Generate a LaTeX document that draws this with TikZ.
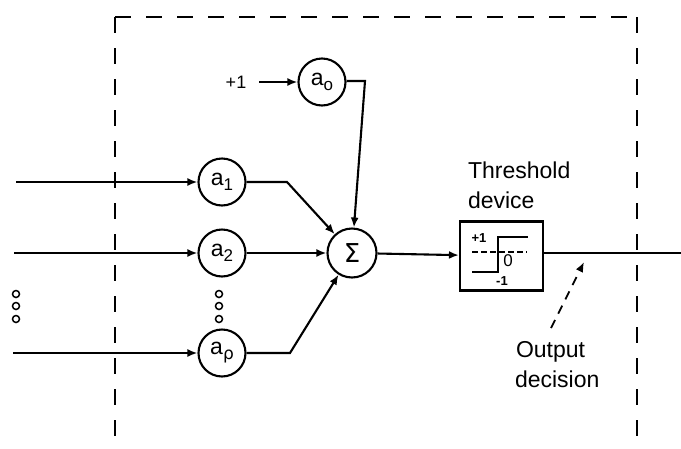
\documentclass[tikz,border=0pt]{standalone}
\usepackage{fontspec}
\setmainfont{Liberation Sans}
\newfontfamily\dejav{DejaVu Sans}
\usetikzlibrary{arrows.meta}
\newcommand{\wsub}[1]{\raisebox{-5pt}{\fontsize{17}{19}\selectfont #1}}
\begin{document}
\begin{tikzpicture}[x=1pt,y=-1pt,
  line width=2.1pt,
  wt/.style={circle,draw,minimum size=47pt,inner sep=0pt,font=\fontsize{23}{25}\selectfont},
  arr/.style={-{Latex[length=10pt,width=8pt]}},
  frame/.style={line width=2.6pt,dash pattern=on 16pt off 15pt},
  lbl/.style={font=\fontsize{23}{25}\selectfont,inner sep=0pt},
  dot/.style={circle,draw,line width=1.5pt,minimum size=7pt,inner sep=0pt}]
\useasboundingbox (0,0) rectangle (681,448);
% frame
\coordinate (fbl) at (115,448);
\coordinate (ftl) at (115,17);
\coordinate (ftr) at (637,17);
\coordinate (fbr) at (637,448);
\draw[frame] (ftl) -- (ftr);
\draw[frame] (ftl) -- (fbl);
\draw[frame] (ftr) -- (fbr);
% nodes
\node[wt] (a0) at (322,82) {a\wsub{o}};
\node[wt] (a1) at (222,182) {a\wsub{1}};
\node[wt] (a2) at (222,253) {a\wsub{2}};
\node[wt] (ap) at (222,353) {a\wsub{\dejav ρ}};
\node[wt,minimum size=49pt,font=\fontsize{26}{28}\selectfont] (sum) at (352,253) {\dejav Σ};
\node[draw,minimum width=83pt,minimum height=69pt,inner sep=0pt] (th) at (501.5,256) {};
\node[font=\fontsize{18}{20}\selectfont,inner sep=0pt] (plus) at (236,82) {+1};
\node[lbl,anchor=base west] (thl) at (467,178) {Threshold};
\node[lbl,anchor=base west] (dev) at (467,208) {device};
\node[lbl,anchor=base west] (out) at (515,357) {Output};
\node[lbl,anchor=base west] (dec) at (514,387) {decision};
% inputs
\coordinate (i1) at (16,182);
\coordinate (i2) at (14,253);
\coordinate (ip) at (13,353);
\draw[arr] (i1) -- (a1);
\draw[arr] (i2) -- (a2);
\draw[arr] (ip) -- (ap);
\coordinate (pe) at (259,82);
\draw[arr] (pe) -- (a0);
% to sum
\coordinate (k0) at (365,81);
\coordinate (k1) at (287,182);
\coordinate (kp) at (290,353);
\draw[arr] (a0.east |- k0) -- (k0) -- (sum);
\draw[arr] (a1) -- (k1) -- (sum);
\draw[arr] (a2) -- (sum);
\draw[arr] (ap) -- (kp) -- (sum);
\draw[arr] (sum) -- (th);
\coordinate (oend) at (681,253);
\draw (th.east |- oend) -- (oend);
% threshold inside
\coordinate (s1) at (472,272);
\coordinate (s2) at (498,272);
\coordinate (s3) at (498,237);
\coordinate (s4) at (528,237);
\draw[line width=1.8pt] (s1) -- (s2) -- (s3) -- (s4);
\coordinate (d1) at (472,252);
\coordinate (d2) at (527,252);
\draw[line width=1.6pt,dash pattern=on 6pt off 3pt] (d1) -- (d2);
\node[font=\fontsize{13}{14}\selectfont\bfseries,inner sep=0pt] (p1) at (479,238) {+1};
\node[font=\fontsize{17}{18}\selectfont,inner sep=0pt] (z) at (508,261) {0};
\node[font=\fontsize{13}{14}\selectfont\bfseries,inner sep=0pt] (m1) at (502,281) {-1};
% output pointer
\coordinate (pt) at (584,262);
\coordinate (pb) at (551,328);
\draw[line width=1.8pt,dash pattern=on 9pt off 7pt,-{Latex[length=10pt,width=8pt]}] (pb) -- (pt);
% dots
\foreach \y [count=\i] in {294,306,319}{
  \node[dot] (ld\i) at (16,\y) {};
  \node[dot] (md\i) at (219,\y) {};
}
\end{tikzpicture}
\end{document}
